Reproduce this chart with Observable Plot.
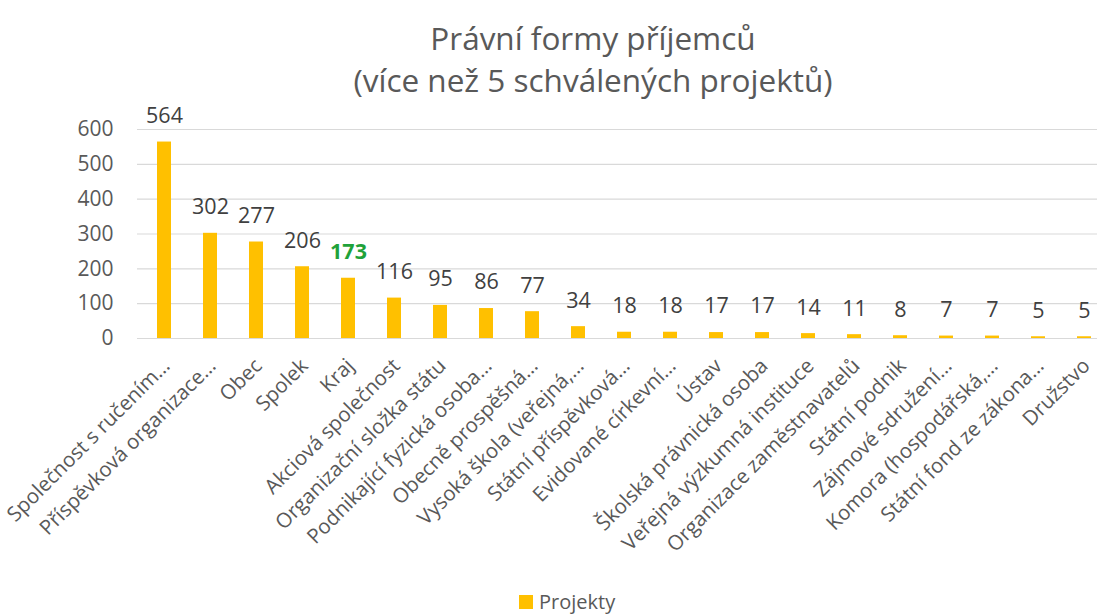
<!DOCTYPE html>
<html>
<head>
<meta charset="utf-8">
<script src="https://cdn.jsdelivr.net/npm/d3@7"></script>
<script src="https://cdn.jsdelivr.net/npm/@observablehq/plot@0.6"></script>
<style>
  html, body { margin: 0; padding: 0; background: #fff; }
  #wrap { position: relative; width: 1097px; height: 615px; overflow: hidden; font-family: "Open Sans", sans-serif; color: #595959; }
  #title { position: absolute; top: 17px; left: 593px; transform: translateX(-50%); white-space: nowrap; text-align: center; font-size: 31.5px; line-height: 42px; color: #595959; }
  #chart { position: absolute; top: 100px; left: 0; }
  #legend { position: absolute; top: 590px; left: 519px; display: flex; align-items: center; font-size: 20px; line-height: 24px; color: #595959; }
  #legend .sw { width: 14px; height: 14px; background: #FFC000; margin-right: 6px; }
</style>
</head>
<body>
<div id="wrap">
  <div id="title">Právní formy příjemců<br>(více než 5 schválených projektů)</div>
  <div id="chart"></div>
  <div id="legend"><div class="sw"></div><span>Projekty</span></div>
</div>
<script>
const categories = [
  "Společnost s ručením…",
  "Příspěvková organizace…",
  "Obec",
  "Spolek",
  "Kraj",
  "Akciová společnost",
  "Organizační složka státu",
  "Podnikající fyzická osoba…",
  "Obecně prospěšná…",
  "Vysoká škola (veřejná,…",
  "Státní příspěvková…",
  "Evidované církevní…",
  "Ústav",
  "Školská právnická osoba",
  "Veřejná výzkumná instituce",
  "Organizace zaměstnavatelů",
  "Státní podnik",
  "Zájmové sdružení…",
  "Komora (hospodářská,…",
  "Státní fond ze zákona…",
  "Družstvo"
];
const projekty = [564, 302, 277, 206, 173, 116, 95, 86, 77, 34, 18, 18, 17, 17, 14, 11, 8, 7, 7, 5, 5];
const yTicks = [0, 100, 200, 300, 400, 500, 600];
const highlighted = ["Kraj"];

const data = categories.map((c, i) => ({category: c, value: projekty[i], hi: highlighted.includes(c)}));

const plot = Plot.plot({
  width: 1097,
  height: 480,
  marginTop: 29,
  marginBottom: 242,
  marginLeft: 137,
  marginRight: -14,
  style: {fontFamily: "Open Sans, sans-serif", fontSize: "20px", color: "#595959", background: "transparent", overflow: "visible"},
  x: {domain: categories, paddingInner: 0.685, paddingOuter: 0.3425, label: null},
  y: {domain: [0, 600], label: null},
  marks: [
    Plot.gridY(yTicks, {stroke: "#D9D9D9", strokeOpacity: 1, strokeWidth: 1.2}),
    Plot.barY(data, {x: "category", y: "value", fill: "#FFC000"}),
    Plot.axisY(yTicks, {tickSize: 0, tickPadding: 24, fontSize: 21, fill: "#595959", label: null}),
    Plot.axisX({tickSize: 0, tickPadding: 6, tickRotate: -45, fontSize: 20.5, dx: 2, dy: 18, fill: "#595959", label: null}),
    Plot.text(data.filter(d => !d.hi), {x: "category", y: "value", text: d => String(d.value), dy: -26, fontSize: 21.5, fill: "#404040"}),
    Plot.text(data.filter(d => d.hi), {x: "category", y: "value", text: d => String(d.value), dy: -26, fontSize: 21.5, fontWeight: "bold", fill: "#1FA23A"})
  ]
});
document.getElementById("chart").appendChild(plot);
</script>
</body>
</html>
